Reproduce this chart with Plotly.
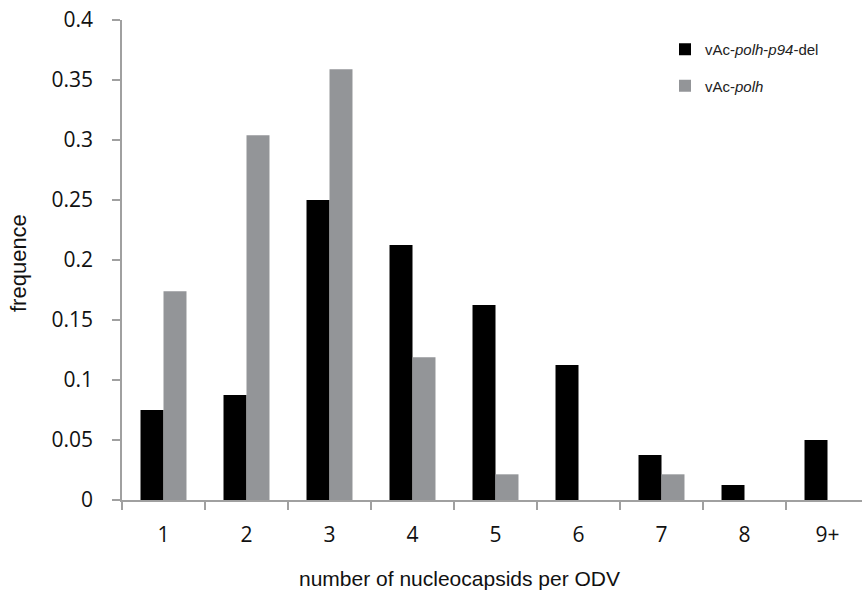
import plotly.graph_objects as go

categories = ["1", "2", "3", "4", "5", "6", "7", "8", "9+"]
del_values = [0.075, 0.0875, 0.25, 0.2125, 0.1625, 0.1125, 0.0375, 0.0125, 0.05]
polh_values = [0.174, 0.304, 0.359, 0.119, 0.0214, 0, 0.0214, 0, 0]
y_ticks = [0, 0.05, 0.1, 0.15, 0.2, 0.25, 0.3, 0.35, 0.4]
y_tick_labels = ["0", "0.05", "0.1", "0.15", "0.2", "0.25", "0.3", "0.35", "0.4"]

W, H = 862, 594
ML, MR, MT, MB = 122, 0, 20, 94

fig = go.Figure()
fig.add_trace(go.Bar(x=categories, y=del_values, name="vAc-<i>polh</i>-<i>p94</i>-del",
                     marker=dict(color="#000000", line=dict(width=0)), legendgroup="a"))
fig.add_trace(go.Bar(x=categories, y=polh_values, name="vAc-<i>polh</i>",
                     marker=dict(color="#939598", line=dict(width=0)), legendgroup="b"))

axis_color = "#a0a0a0"
fig.update_layout(
    width=W, height=H,
    margin=dict(l=ML, r=MR, t=MT, b=MB, pad=0),
    plot_bgcolor="white", paper_bgcolor="white",
    barmode="group", bargap=0.446, bargroupgap=0,
    showlegend=True,
    legend=dict(x=(665 - ML) / (W - ML - MR), xanchor="left",
                y=1 - (33 - MT) / (H - MT - MB), yanchor="top",
                font=dict(family="Liberation Sans, Arial", size=15, color="#222"),
                tracegroupgap=14, bgcolor="rgba(0,0,0,0)", itemwidth=30),
    xaxis=dict(type="category", range=[-0.5, (W - ML - MR) / 83 - 0.5],
               showline=True, linecolor=axis_color, linewidth=1.5,
               ticks="outside", tickson="boundaries", ticklen=8, tickwidth=1.5, tickcolor=axis_color,
               tickfont=dict(family="Open Sans", size=21, color="#111"),
               ticklabelstandoff=15, showgrid=False, zeroline=False, fixedrange=True),
    yaxis=dict(range=[0, 0.4], tickvals=y_ticks, ticktext=y_tick_labels,
               showline=True, linecolor=axis_color, linewidth=1.5,
               ticks="outside", ticklen=8, tickwidth=1.5, tickcolor=axis_color,
               tickfont=dict(family="Open Sans", size=21, color="#111"),
               ticklabelstandoff=15, showgrid=False, zeroline=False, fixedrange=True),
    annotations=[
        dict(text="frequence", xref="paper", yref="paper",
             x=(18 - ML) / (W - ML - MR), y=(H - MB - 263) / (H - MT - MB),
             xanchor="center", yanchor="middle", textangle=-90, showarrow=False,
             font=dict(family="Liberation Sans, Arial", size=22, color="#111")),
        dict(text="number of nucleocapsids per ODV", xref="paper", yref="paper",
             x=(459.5 - ML) / (W - ML - MR), y=(H - MB - 578) / (H - MT - MB),
             xanchor="center", yanchor="middle", showarrow=False,
             font=dict(family="Liberation Sans, Arial", size=21, color="#111")),
    ],
)

fig.write_html("out.html", config={"displayModeBar": False},
               post_script="document.body.style.margin='0';document.body.style.padding='0';")
